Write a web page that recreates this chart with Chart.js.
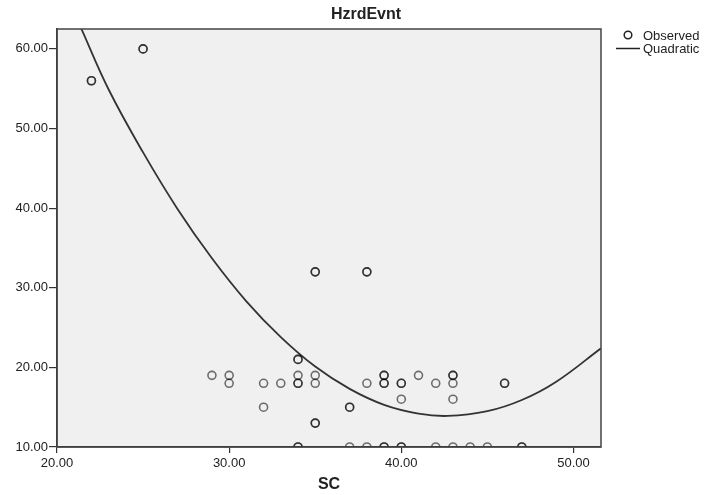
<!DOCTYPE html>
<html lang="en">
<head>
  <meta charset="UTF-8">
  <title>HzrdEvnt by SC</title>
  <script src="https://cdn.jsdelivr.net/npm/chart.js"></script>
  <style>
    body { margin: 0; padding: 0; background: #fff; }
    canvas { display: block; }
  </style>
</head>
<body>
  <canvas id="plot" width="719" height="495"></canvas>

  <script>
    // observed cases (repeated pairs are stacked cases, they draw darker)
    const obsSC = [22, 22, 25, 25, 35, 35, 38, 38, 34, 34,
      29, 30, 30, 32, 33, 34, 34, 34, 35, 35,
      32, 37, 37, 35, 35,
      38, 39, 39, 39, 39, 40, 40, 40, 41, 42, 43, 43, 43, 43, 46, 46,
      34, 34, 37, 38, 39, 39, 40, 40, 42, 43, 44, 45, 47, 47];
    const obsHzrd = [56, 56, 60, 60, 32, 32, 32, 32, 21, 21,
      19, 19, 18, 18, 18, 19, 18, 18, 19, 18,
      15, 15, 15, 13, 13,
      18, 19, 19, 18, 18, 18, 18, 16, 19, 18, 19, 19, 18, 16, 18, 18,
      10, 10, 10, 10, 10, 10, 10, 10, 10, 10, 10, 10, 10, 10];

    // quadratic fit line
    const fitSC = [21.4, 23, 25, 27, 29, 31, 33, 35, 37, 39, 41, 42.7, 45, 47, 49, 51.6];
    const fitHzrd = [62.6, 54.9, 47.0, 39.9, 33.7, 28.3, 23.8, 20.1, 17.3, 15.3, 14.2, 13.9, 14.5, 15.9, 18.2, 22.4];

    const xTicks = [20, 30, 40, 50];
    const yTicks = [10, 20, 30, 40, 50, 60];

    const ink = '#333';
    const font = 'Liberation Sans';

    const frame = {
      id: 'frame',
      beforeDraw(chart) {
        const { ctx, chartArea: a } = chart;
        ctx.save();
        ctx.fillStyle = '#f0f0f0';
        ctx.fillRect(a.left, a.top, a.right - a.left, a.bottom - a.top);
        ctx.restore();
      },
      afterDatasetsDraw(chart) {
        const { ctx, chartArea: a } = chart;
        ctx.save();
        ctx.strokeStyle = '#444';
        ctx.lineWidth = 1.5;
        ctx.strokeRect(a.left, a.top, a.right - a.left, a.bottom - a.top);
        ctx.restore();
      },
      afterDraw(chart) {
        const { ctx } = chart;
        ctx.save();
        ctx.fillStyle = '#222';
        ctx.textBaseline = 'middle';
        ctx.textAlign = 'center';
        ctx.font = 'bold 16px "' + font + '"';
        ctx.fillText('HzrdEvnt', 366, 15);

        // legend
        ctx.strokeStyle = '#222';
        ctx.lineWidth = 1.5;
        ctx.beginPath();
        ctx.arc(628, 35, 3.8, 0, Math.PI * 2);
        ctx.stroke();
        ctx.beginPath();
        ctx.moveTo(616, 48.5);
        ctx.lineTo(640, 48.5);
        ctx.stroke();
        ctx.textAlign = 'left';
        ctx.font = '13px "' + font + '"';
        ctx.fillText('Observed', 643, 36);
        ctx.fillText('Quadratic', 643, 49);
        ctx.restore();
      }
    };

    function axisTicks(list) {
      return scale => { scale.ticks = list.map(v => ({ value: v })); };
    }

    window.onload = () => {
      const ctx = document.getElementById('plot').getContext('2d');
      new Chart(ctx, {
        type: 'scatter',
        data: {
          datasets: [
            {
              label: 'Observed',
              data: obsSC.map((x, i) => ({ x: x, y: obsHzrd[i] })),
              pointStyle: 'circle',
              pointRadius: 4,
              pointBorderWidth: 1.6,
              borderColor: 'rgba(0,0,0,0.55)',
              backgroundColor: 'rgba(0,0,0,0)'
            },
            {
              type: 'line',
              label: 'Quadratic',
              data: fitSC.map((x, i) => ({ x: x, y: fitHzrd[i] })),
              borderColor: ink,
              borderWidth: 1.8,
              pointRadius: 0,
              tension: 0.4,
              fill: false
            }
          ]
        },
        options: {
          responsive: false,
          animation: false,
          layout: { padding: { top: 29, right: 118, left: 0, bottom: 0 } },
          scales: {
            x: {
              type: 'linear',
              min: 20, max: 51.6,
              afterBuildTicks: axisTicks(xTicks),
              afterFit: s => { s.height = 48; },
              grid: { drawOnChartArea: false, tickLength: 6, color: ink, lineWidth: 1.2 },
              border: { color: ink, width: 1.5 },
              ticks: {
                color: '#222', padding: 3,
                font: { family: font, size: 13 },
                callback: v => v.toFixed(2),
                maxRotation: 0
              },
              title: {
                display: true, text: 'SC', color: '#222',
                font: { family: font, size: 16, weight: 'bold' },
                padding: { top: 0, bottom: 1 }
              }
            },
            y: {
              min: 10, max: 62.5,
              afterBuildTicks: axisTicks(yTicks),
              afterFit: s => { s.width = 57; },
              grid: { drawOnChartArea: false, tickLength: 8, color: ink, lineWidth: 1.2 },
              border: { color: ink, width: 1.5 },
              ticks: {
                color: '#222', padding: 1,
                font: { family: font, size: 13 },
                callback: v => v.toFixed(2)
              }
            }
          },
          plugins: {
            legend: { display: false },
            tooltip: { enabled: false }
          }
        },
        plugins: [frame]
      });
    };
  </script>
</body>
</html>
